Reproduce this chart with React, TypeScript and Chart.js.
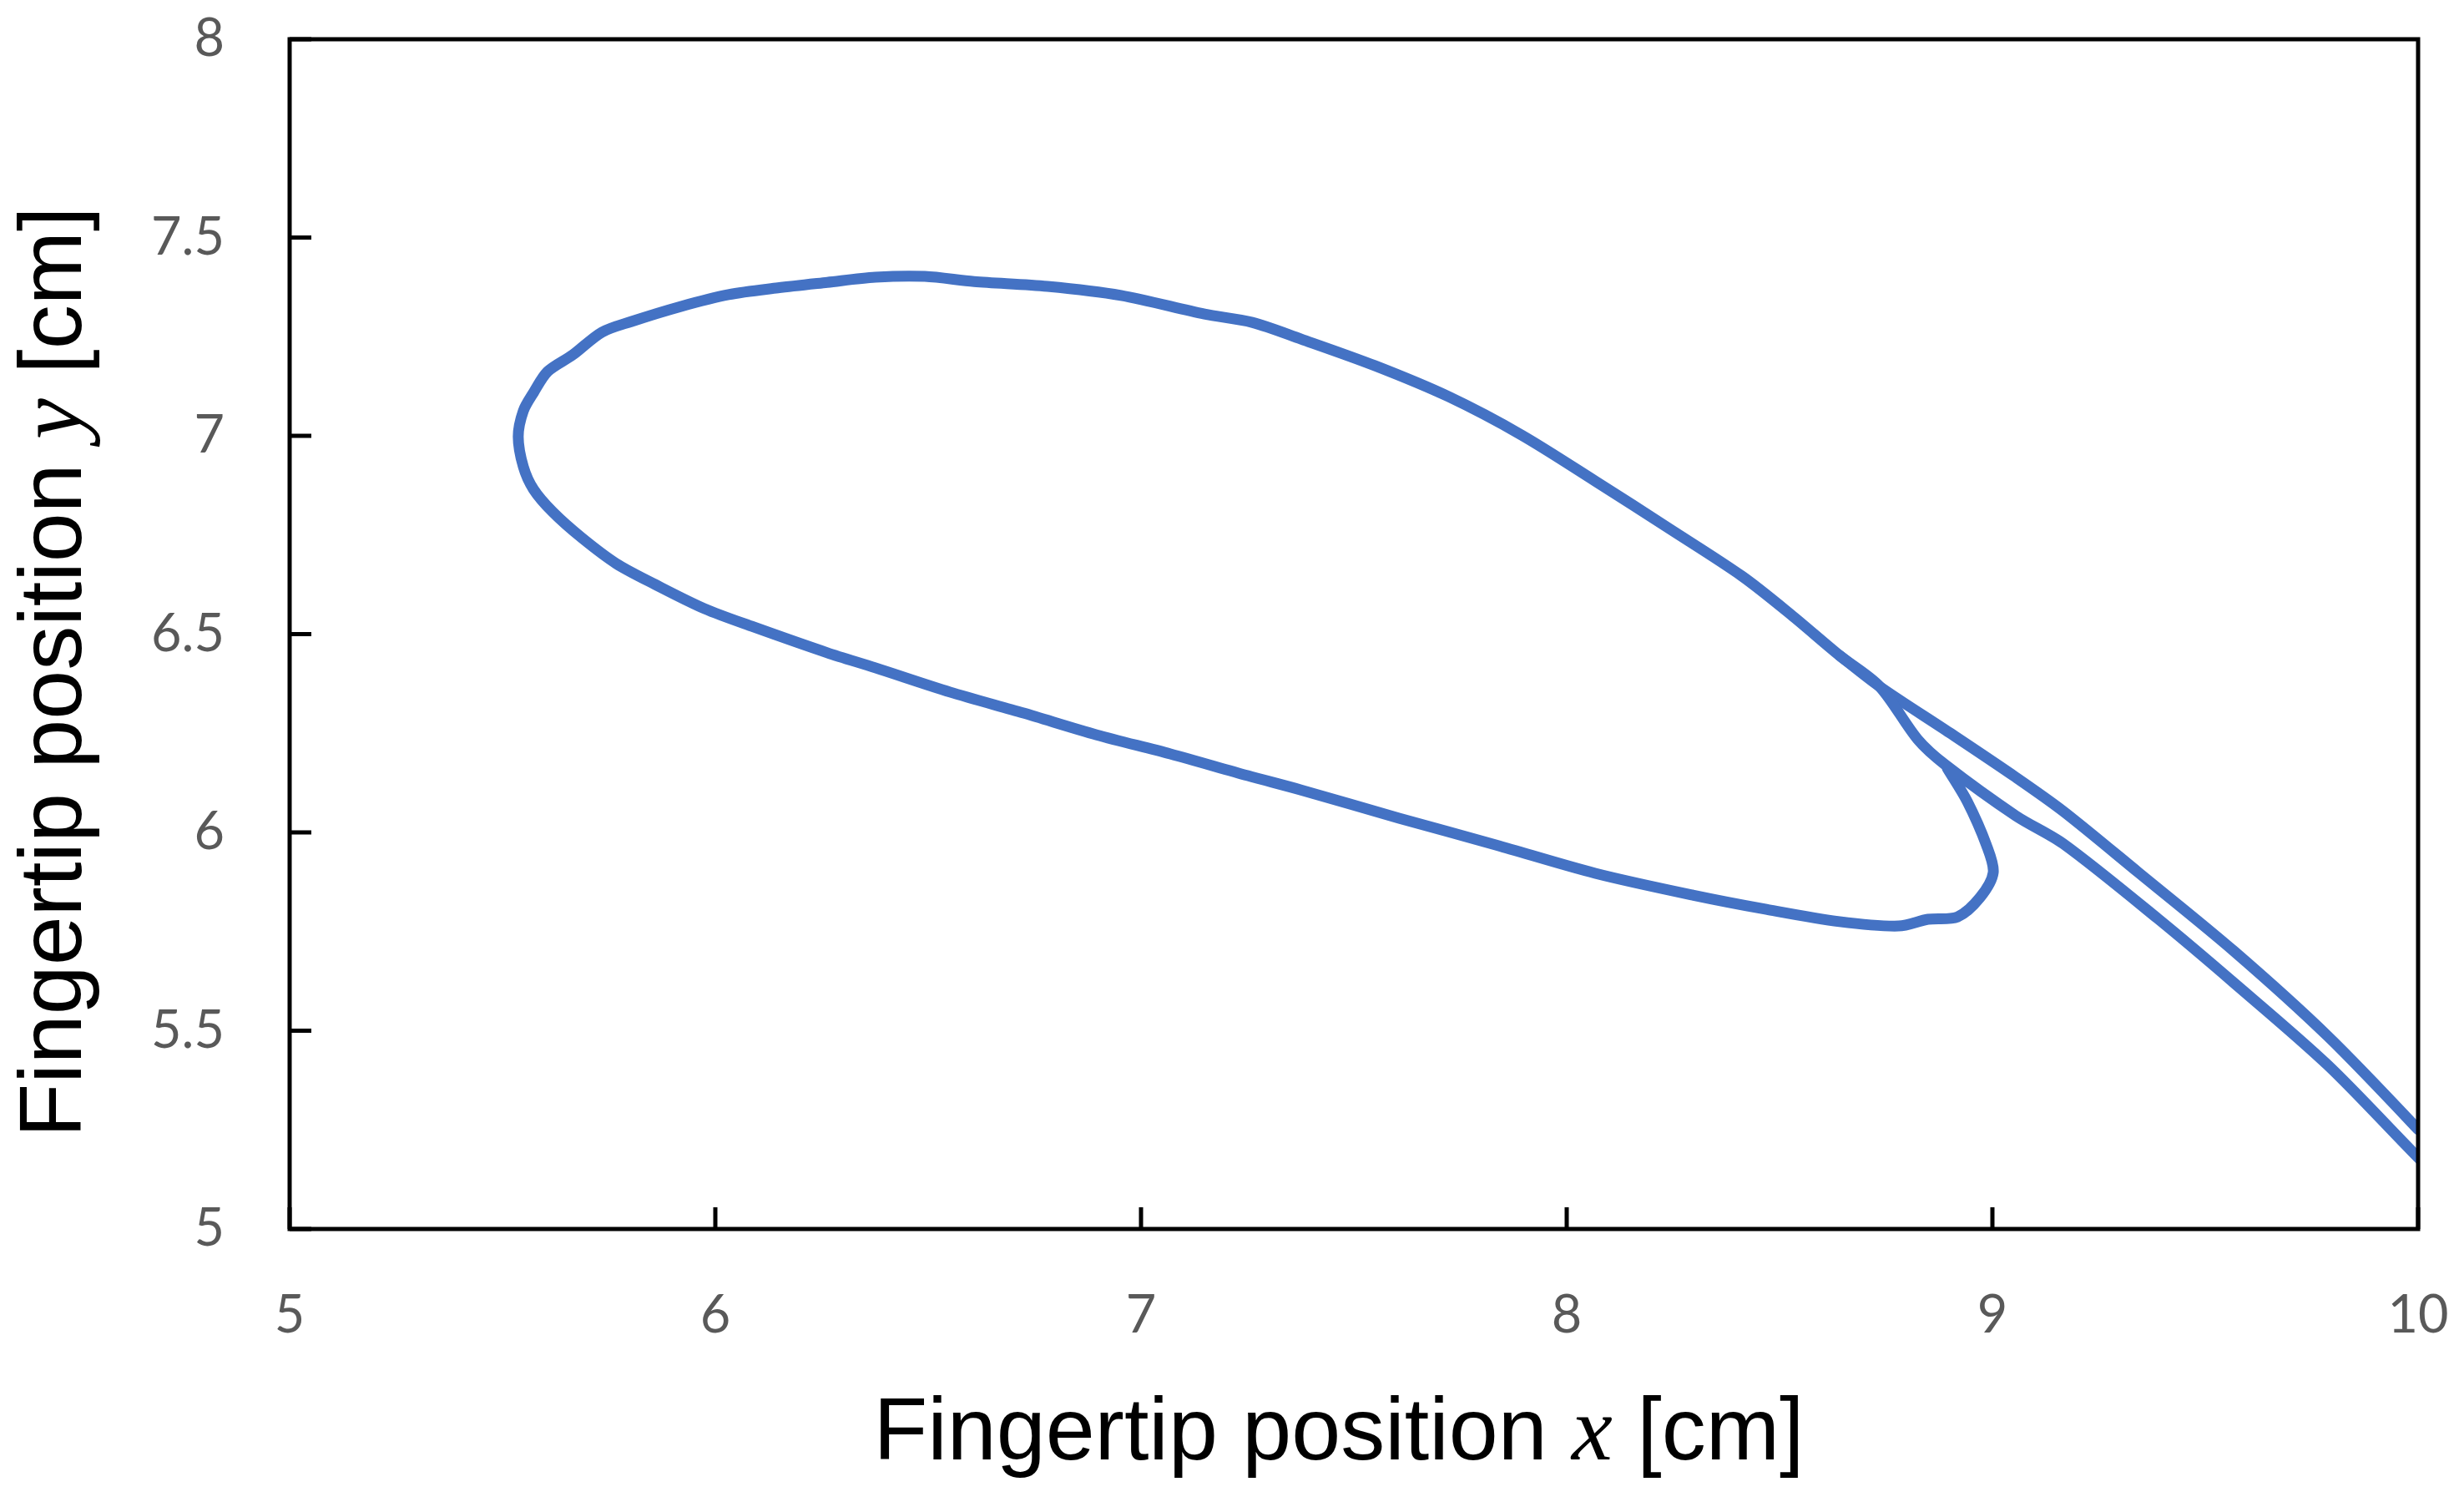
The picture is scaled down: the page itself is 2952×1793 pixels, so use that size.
import React, { useEffect, useRef } from "react";
import { Chart, registerables } from "chart.js";

Chart.register(...registerables);

// Main trajectory: enters along the lower straight path, loops once (upper arc, left end, lower arc)
const LOOP_X = [
  10.04, 10.0, 9.788, 9.567, 9.388, 9.167, 9.055, 8.89, 8.825, 8.735,
  8.641, 8.527, 8.412, 8.241, 8.067, 7.894, 7.722, 7.549, 7.376, 7.261,
  7.149, 6.953, 6.78, 6.608, 6.492, 6.376, 6.263, 6.147, 6.031, 5.918,
  5.802, 5.733, 5.665, 5.606, 5.573, 5.549, 5.537, 5.549, 5.573, 5.618,
  5.686, 5.767, 5.859, 5.975, 6.09, 6.263, 6.376, 6.551, 6.724, 6.896,
  7.069, 7.251, 7.376, 7.606, 7.835, 8.067, 8.296, 8.469, 8.641, 8.78,
  8.849, 8.918, 8.971, 9.002, 8.986, 8.941, 8.894,
];
const LOOP_Y = [
  5.14, 5.18, 5.413, 5.621, 5.783, 5.971, 6.042, 6.17, 6.234, 6.368,
  6.446, 6.549, 6.646, 6.766, 6.886, 7.002, 7.099, 7.177, 7.244, 7.286,
  7.307, 7.354, 7.377, 7.389, 7.402, 7.4, 7.387, 7.373, 7.356, 7.326,
  7.288, 7.261, 7.204, 7.162, 7.109, 7.063, 6.998, 6.922, 6.865, 6.808,
  6.743, 6.678, 6.625, 6.564, 6.518, 6.453, 6.415, 6.354, 6.301, 6.246,
  6.198, 6.143, 6.107, 6.036, 5.968, 5.897, 5.842, 5.806, 5.775, 5.764,
  5.781, 5.787, 5.836, 5.899, 5.968, 6.078, 6.162,
];

// Exit: from the upper arc junction out along the upper straight path
const EXIT_X = [8.641, 8.735, 8.9, 9.055, 9.167, 9.343, 9.567, 9.788, 10.0, 10.04];
const EXIT_Y = [6.446, 6.368, 6.251, 6.139, 6.053, 5.899, 5.701, 5.486, 5.251, 5.2];

const X_TICKS = [5, 6, 7, 8, 9, 10];
const Y_TICKS = [5, 5.5, 6, 6.5, 7, 7.5, 8];

const X_TITLE = ["Fingertip position ", "x", " [cm]"];
const Y_TITLE = ["Fingertip position ", "y", " [cm]"];

const LINE_COLOR = "#4472C4";
const TICK_COLOR = "#595959";
const TITLE_FONT = "106px 'Liberation Sans', Arial, sans-serif";
const TITLE_ITALIC_FONT = "italic 110px 'Liberation Serif', 'Times New Roman', serif";

function toPoints(xs: number[], ys: number[]) {
  return xs.map((x, i) => ({ x, y: ys[i] }));
}

function drawMixed(ctx: CanvasRenderingContext2D, parts: string[], cx: number, baseline: number) {
  const fonts = [TITLE_FONT, TITLE_ITALIC_FONT, TITLE_FONT];
  const widths = parts.map((p, i) => {
    ctx.font = fonts[i];
    return ctx.measureText(p).width;
  });
  const total = widths.reduce((a, b) => a + b, 0);
  let x = cx - total / 2;
  ctx.textAlign = "left";
  ctx.textBaseline = "alphabetic";
  ctx.fillStyle = "#000";
  parts.forEach((p, i) => {
    ctx.font = fonts[i];
    ctx.fillText(p, x, baseline);
    x += widths[i];
  });
}

const framePlugin = {
  id: "frameAndTitles",
  afterDatasetsDraw(chart: any) {
    const { ctx, chartArea: a, scales } = chart;
    ctx.save();
    ctx.strokeStyle = "#000";
    ctx.lineWidth = 5;
    ctx.strokeRect(a.left, a.top, a.right - a.left, a.bottom - a.top);
    ctx.beginPath();
    X_TICKS.forEach((t) => {
      const px = scales.x.getPixelForValue(t);
      ctx.moveTo(px, a.bottom);
      ctx.lineTo(px, a.bottom - 26);
    });
    Y_TICKS.forEach((t) => {
      const py = scales.y.getPixelForValue(t);
      ctx.moveTo(a.left, py);
      ctx.lineTo(a.left + 26, py);
    });
    ctx.stroke();

    // axis titles
    drawMixed(ctx, X_TITLE, (a.left + a.right) / 2 - 18, 1748);
    ctx.translate(97, 805);
    ctx.rotate(-Math.PI / 2);
    drawMixed(ctx, Y_TITLE, 0, 0);
    ctx.restore();
  },
};

export default function App() {
  const canvasRef = useRef<HTMLCanvasElement | null>(null);

  useEffect(() => {
    if (!canvasRef.current) return;
    const lineStyle = {
      borderColor: LINE_COLOR,
      backgroundColor: LINE_COLOR,
      borderWidth: 13,
      pointRadius: 0,
      showLine: true,
      tension: 0.3,
      fill: false,
      clip: 0,
      borderCapStyle: "round" as const,
      borderJoinStyle: "round" as const,
    };
    const chart = new Chart(canvasRef.current, {
      type: "scatter",
      data: {
        datasets: [
          { label: "loop", data: toPoints(LOOP_X, LOOP_Y), ...lineStyle },
          { label: "exit", data: toPoints(EXIT_X, EXIT_Y), ...lineStyle },
        ],
      },
      options: {
        animation: false,
        responsive: true,
        maintainAspectRatio: false,
        layout: { padding: { top: 47, right: 55, left: 0, bottom: 0 } },
        plugins: { legend: { display: false }, tooltip: { enabled: false } },
        scales: {
          x: {
            type: "linear",
            min: 5,
            max: 10,
            afterBuildTicks: (scale: any) => {
              scale.ticks = X_TICKS.map((v) => ({ value: v }));
            },
            afterFit: (scale: any) => {
              scale.height = 1793 - 1472;
              scale.paddingLeft = 0;
              scale.paddingRight = 0;
            },
            grid: { display: false, drawTicks: false },
            border: { display: false },
            ticks: {
              color: TICK_COLOR,
              font: { family: "Lato, 'Open Sans', sans-serif", size: 63 },
              padding: 66,
              maxRotation: 0,
              callback: (v: any) => String(v),
            },
          },
          y: {
            type: "linear",
            min: 5,
            max: 8,
            afterBuildTicks: (scale: any) => {
              scale.ticks = Y_TICKS.map((v) => ({ value: v }));
            },
            afterFit: (scale: any) => {
              scale.width = 347;
              scale.paddingTop = 0;
              scale.paddingBottom = 0;
            },
            grid: { display: false, drawTicks: false },
            border: { display: false },
            ticks: {
              color: TICK_COLOR,
              font: { family: "Lato, 'Open Sans', sans-serif", size: 63 },
              padding: 78,
              callback: (v: any) => String(v),
            },
          },
        },
      },
      plugins: [framePlugin],
    });
    return () => chart.destroy();
  }, []);

  return (
    <div style={{ position: "absolute", left: 0, top: 0, width: 2952, height: 1793, background: "#fff" }}>
      <canvas ref={canvasRef} />
    </div>
  );
}
